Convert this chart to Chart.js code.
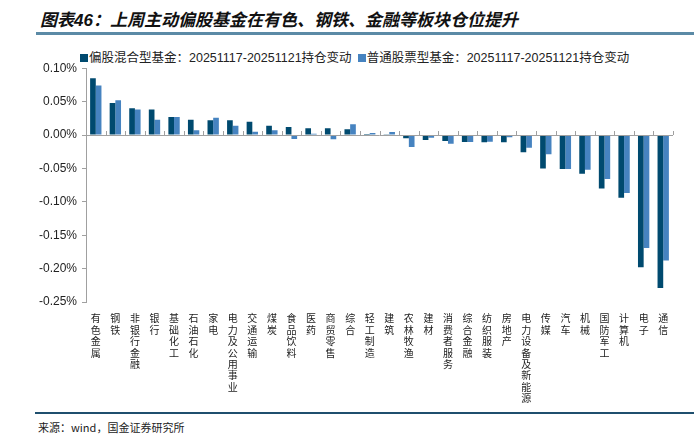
<!DOCTYPE html>
<html>
<head>
<meta charset="utf-8">
<script src="https://cdn.jsdelivr.net/npm/chart.js@4.4.1/dist/chart.umd.min.js"></script>
<style>
  html,body{margin:0;padding:0;background:#fff;}
  body{width:694px;height:446px;position:relative;overflow:hidden;font-family:"Liberation Sans","Noto Sans CJK SC",sans-serif;}
  #title{position:absolute;left:40px;top:6px;font-size:17px;font-weight:bold;font-style:italic;color:#111;white-space:nowrap;font-family:"Liberation Sans","Noto Sans CJK SC",sans-serif;}
  #topline{position:absolute;left:36px;right:0;top:32px;height:3px;background:#5b8aa6;}
  #legend{position:absolute;left:80px;top:47px;font-size:12.5px;color:#222;white-space:nowrap;}
  #legend span.sq{display:inline-block;width:8px;height:8px;margin-right:1px;vertical-align:0px;}
  #legend span.item{margin-right:6px;}
  #wrap{position:absolute;left:0;top:56px;width:694px;height:354px;}
  #botline{position:absolute;left:35px;right:0;top:412px;height:2px;background:#1f4f6e;}
  #source{position:absolute;left:38px;top:419px;font-size:11px;color:#222;font-family:"Noto Sans CJK SC",sans-serif;}
</style>
</head>
<body>
<div id="title">图表46：上周主动偏股基金在有色、钢铁、金融等板块仓位提升</div>
<div id="topline"></div>
<div id="legend"></div>
<div id="wrap"><canvas id="c"></canvas></div>
<div id="botline"></div>
<div id="source">来源：wind，国金证券研究所</div>
<script>
const categories = ["有色金属","钢铁","非银行金融","银行","基础化工","石油石化","家电","电力及公用事业","交通运输","煤炭","食品饮料","医药","商贸零售","综合","轻工制造","建筑","农林牧渔","建材","消费者服务","综合金融","纺织服装","房地产","电力设备及新能源","传媒","汽车","机械","国防军工","计算机","电子","通信"];
const seriesNames = ["偏股混合型基金：20251117-20251121持仓变动","普通股票型基金：20251117-20251121持仓变动"];
const hybridFund = [0.085,0.048,0.040,0.038,0.027,0.023,0.022,0.022,0.020,0.014,0.012,0.010,0.010,0.0085,0.0015,0.001,-0.005,-0.0075,-0.009,-0.0105,-0.011,-0.011,-0.026,-0.050,-0.051,-0.058,-0.080,-0.094,-0.198,-0.229];
const stockFund = [0.074,0.052,0.038,0.023,0.027,0.007,0.026,0.014,0.005,0.007,-0.006,0.002,-0.0065,0.016,0.003,0.0045,-0.018,-0.004,-0.013,-0.0105,-0.010,-0.0035,-0.019,-0.029,-0.051,-0.052,-0.066,-0.087,-0.169,-0.188];
const yTicks = [0.10,0.05,0.00,-0.05,-0.10,-0.15,-0.20,-0.25];
const colors = ["#004a6f","#4683c0"];

// HTML legend
const lg = document.getElementById('legend');
seriesNames.forEach((n,i)=>{
  const it = document.createElement('span'); it.className='item';
  it.innerHTML = '<span class="sq" style="background:'+colors[i]+'"></span>'+n;
  lg.appendChild(it);
});

const axisDecor = {
  id:'axisDecor',
  afterDatasetsDraw(chart){
    const {ctx, chartArea, scales:{x,y}} = chart;
    const y0 = y.getPixelForValue(0);
    ctx.save();
    ctx.strokeStyle = '#a0a0a0';
    ctx.lineWidth = 1;
    ctx.beginPath();
    ctx.moveTo(chartArea.left, y0+0.5);
    ctx.lineTo(chartArea.right, y0+0.5);
    const w = (x.getPixelForValue(1) - x.getPixelForValue(0));
    for(let k=1;k<=categories.length;k++){
      const px = Math.round(x.getPixelForValue(k-1) + w/2)+0.5;
      ctx.moveTo(px, y0);
      ctx.lineTo(px, y0-4);
    }
    ctx.stroke();
    ctx.restore();
  }
};

new Chart(document.getElementById('c'), {
  type:'bar',
  data:{
    labels: categories.map(s=>s.split('')),
    datasets:[
      {label:seriesNames[0], data:hybridFund, backgroundColor:colors[0], categoryPercentage:0.58, barPercentage:1.0},
      {label:seriesNames[1], data:stockFund, backgroundColor:colors[1], categoryPercentage:0.58, barPercentage:1.0}
    ]
  },
  options:{
    responsive:true, maintainAspectRatio:false, animation:false,
    layout:{padding:{left:0,right:21,top:7,bottom:0}},
    plugins:{legend:{display:false}, tooltip:{enabled:false}},
    scales:{
      x:{
        offset:true,
        grid:{display:false},
        border:{display:false},
        ticks:{autoSkip:false,maxRotation:0,minRotation:0,padding:3,color:'#222',
          font:{family:'"Noto Sans CJK SC", sans-serif',size:10,lineHeight:'11.4px'}},
        afterFit(s){ s.height = 108; }
      },
      y:{
        min:-0.25, max:0.10,
        afterBuildTicks(s){ s.ticks = yTicks.map(v=>({value:v})); },
        grid:{drawOnChartArea:false, drawTicks:true, tickLength:4, color:'#a0a0a0'},
        border:{display:true,color:'#a0a0a0'},
        ticks:{padding:5,color:'#222',font:{family:'"Liberation Sans", Arial, sans-serif',size:12},
          callback:(v)=>Number(v).toFixed(2)+'%'},
        afterFit(s){ s.width = 86; }
      }
    }
  },
  plugins:[axisDecor]
});
</script>
</body>
</html>
